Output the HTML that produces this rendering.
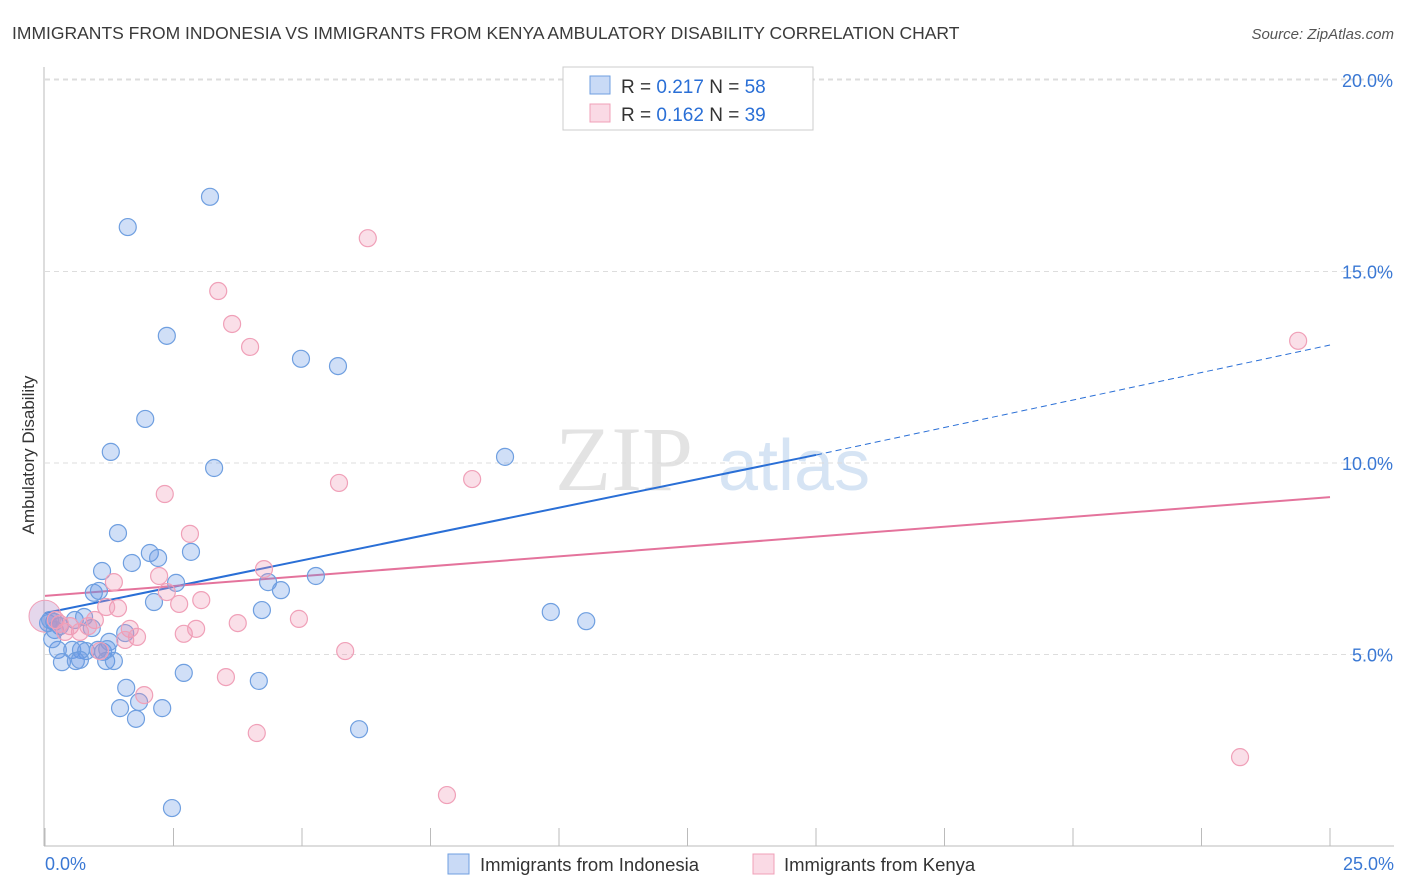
<!DOCTYPE html>
<html><head><meta charset="utf-8"><style>
body{margin:0;background:#fff;font-family:"Liberation Sans",sans-serif;}
#wrap{position:relative;width:1406px;height:892px;overflow:hidden;}
</style></head><body>
<div id="wrap">
<svg id="svg" width="1406" height="892" xmlns="http://www.w3.org/2000/svg">
<text x="12" y="39" font-size="17.5" fill="#3a3a3a">IMMIGRANTS FROM INDONESIA VS IMMIGRANTS FROM KENYA AMBULATORY DISABILITY CORRELATION CHART</text>
<text x="1394" y="39" font-size="15" fill="#555" font-style="italic" text-anchor="end">Source: ZipAtlas.com</text>
<text x="34" y="455" font-size="17" fill="#333" text-anchor="middle" transform="rotate(-90 34 455)">Ambulatory Disability</text>
<g><text x="555" y="490" font-size="92" fill="#ddd" font-family="Liberation Serif,serif" opacity="0.8">ZIP</text><text x="718" y="490" font-size="72" fill="#bcd3ee" opacity="0.6">atlas</text></g>
<g id="grid"></g><g id="axes"></g><g id="lines"></g><g id="pts"></g>
<g>
<rect x="563" y="67" width="250" height="63" fill="#fff" stroke="#ccc"/>
<rect x="590" y="76" width="20" height="18" fill="rgba(100,150,230,0.35)" stroke="#6f9fe0"/>
<rect x="590" y="104" width="20" height="18" fill="rgba(240,150,180,0.35)" stroke="#f0a0b8"/>
<text x="621" y="93" font-size="19" fill="#333">R = <tspan fill="#2a6fd6">0.217</tspan>   N = <tspan fill="#2a6fd6">58</tspan></text>
<text x="621" y="121" font-size="19" fill="#333">R = <tspan fill="#2a6fd6">0.162</tspan>   N = <tspan fill="#2a6fd6">39</tspan></text>
</g>
<g>
<rect x="448" y="854" width="21" height="20" fill="rgba(100,150,230,0.35)" stroke="#6f9fe0"/>
<text x="480" y="871" font-size="18.5" fill="#333">Immigrants from Indonesia</text>
<rect x="753" y="854" width="21" height="20" fill="rgba(240,150,180,0.35)" stroke="#f0a0b8"/>
<text x="784" y="871" font-size="18.5" fill="#333">Immigrants from Kenya</text>
</g>
</svg></div>
<script>
const xTicks=[0,2.5,5,7.5,10,12.5,15,17.5,20,22.5,25];
const yTicks=[5,10,15,20];
const yTickLabels=["5.0%","10.0%","15.0%","20.0%"];
const xEndLabels=["0.0%","25.0%"];
const indoX=[3.21,1.61,2.37,4.98,5.70,1.95,1.28,3.29,8.95,1.42,2.04,2.20,2.84,1.69,1.11,2.55,5.27,4.34,4.59,0.95,1.05,2.12,4.22,9.84,10.53,0.18,0.29,0.06,0.58,0.91,1.56,1.25,0.25,0.53,0.80,1.13,0.70,0.33,0.60,1.19,1.34,0.68,1.58,2.70,4.16,1.46,2.28,1.83,1.77,6.11,2.47,0.19,1.03,0.14,0.76,1.21,0.10];
const indoY=[16.95,16.16,13.32,12.72,12.53,11.15,10.29,9.87,10.16,8.17,7.65,7.52,7.68,7.39,7.18,6.87,7.05,6.89,6.68,6.61,6.66,6.37,6.16,6.11,5.87,5.85,5.74,5.82,5.90,5.69,5.56,5.33,5.12,5.12,5.09,5.07,5.12,4.80,4.83,4.83,4.83,4.86,4.13,4.52,4.31,3.60,3.60,3.76,3.32,3.05,0.99,5.64,5.12,5.40,5.98,5.14,5.90];
const kenX=[6.28,3.37,3.64,3.99,24.38,2.33,5.72,8.31,2.82,4.26,2.22,1.34,2.37,2.61,3.04,1.42,1.19,4.94,3.75,2.70,2.94,1.65,1.79,1.56,0.49,0.68,0.29,0.97,1.07,5.84,3.52,1.93,4.12,7.82,23.25,0.39,0.84,0.21];
const kenY=[15.87,14.49,13.63,13.03,13.19,9.19,9.48,9.58,8.15,7.23,7.05,6.89,6.63,6.32,6.42,6.21,6.24,5.93,5.82,5.54,5.67,5.67,5.46,5.38,5.74,5.59,5.80,5.90,5.09,5.09,4.41,3.94,2.95,1.33,2.32,5.59,5.74,5.90];
const indoTrend=[6.08,10.21,13.08]; // at x=0,15,25
const kenTrend=[6.53,9.11]; // at x=0,25
const NS="http://www.w3.org/2000/svg";
const X=v=>45+v*51.4, Y=v=>846-v*38.3;
function mk(tag,attrs,parent){const e=document.createElementNS(NS,tag);for(const k in attrs)e.setAttribute(k,attrs[k]);document.getElementById(parent).appendChild(e);return e;}
yTicks.forEach((t,i)=>{
 const g=mk('line',{x1:45,x2:1394,y1:Y(t),y2:Y(t),stroke:'#ddd','stroke-dasharray':'5,4'},'grid');
 
 
 const l=mk('text',{x:1393,y:Y(t)+7,'font-size':18,fill:'#3a78d4','text-anchor':'end'},'axes');
 l.textContent=yTickLabels[i];
 
 
});
const topG=mk('line',{x1:45,x2:1394,y1:79,y2:79,stroke:'#ddd','stroke-dasharray':'5,4'},'grid');


const ya=mk('line',{x1:44,x2:44,y1:67,y2:846,stroke:'#bbb'},'axes');


const xa=mk('line',{x1:44,x2:1394,y1:846,y2:846,stroke:'#bbb'},'axes');


xTicks.forEach(t=>{const e=mk('line',{x1:X(t),x2:X(t),y1:828,y2:846,stroke:'#bbb'},'axes');
 
 });
[[0,'start',45],[1,'end',1394]].forEach(([i,a,x])=>{const e=mk('text',{x:x,y:870,'font-size':18,fill:'#3a78d4','text-anchor':a},'axes');e.textContent=xEndLabels[i];
 
 });
let l1=mk('line',{x1:X(0),y1:Y(indoTrend[0]),x2:X(15),y2:Y(indoTrend[1]),stroke:'#2a6fd6','stroke-width':2},'lines');


let l2=mk('line',{x1:X(15),y1:Y(indoTrend[1]),x2:X(25),y2:Y(indoTrend[2]),stroke:'#2a6fd6','stroke-width':1,'stroke-dasharray':'6,4'},'lines');


let l3=mk('line',{x1:X(0),y1:Y(kenTrend[0]),x2:X(25),y2:Y(kenTrend[1]),stroke:'#e4739c','stroke-width':2},'lines');


let big=mk('circle',{cx:X(0),cy:Y(6.0),r:16,fill:'rgba(180,140,200,0.35)',stroke:'#f0a0b8'},'pts');


indoX.forEach((v,i)=>{const c=mk('circle',{cx:X(v),cy:Y(indoY[i]),r:8.5,fill:'rgba(100,150,230,0.3)',stroke:'#6f9fe0','stroke-width':1.2},'pts');
 
 });
kenX.forEach((v,i)=>{const c=mk('circle',{cx:X(v),cy:Y(kenY[i]),r:8.5,fill:'rgba(240,150,180,0.3)',stroke:'#f0a0b8','stroke-width':1.2},'pts');
 
 });
</script>
</body></html>
